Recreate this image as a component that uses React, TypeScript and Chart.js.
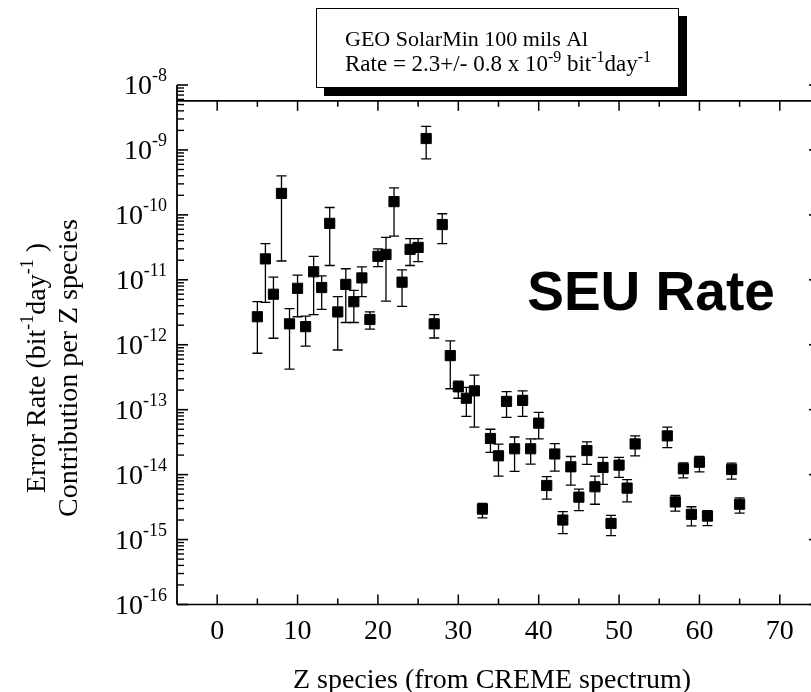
import React, { useEffect, useRef } from "react";
import { Chart, registerables } from "chart.js";

Chart.register(...registerables);

// ---------- data ----------
const zSpecies = [
  5, 6, 7, 8, 9, 10, 11, 12, 13, 14, 15, 16, 17, 18, 19, 20, 21, 22, 23, 24, 25, 26, 27, 28,
  29, 30, 31, 32, 33, 34, 35, 36, 37, 38, 39, 40, 41, 42, 43, 44, 45, 46, 47, 48, 49, 50, 51,
  52, 56, 57, 58, 59, 60, 61, 64, 65,
];
const rate = [
  2.7e-12, 2.1e-11, 6.0e-12, 2.14e-10, 2.1e-12, 7.4e-12, 1.9e-12, 1.33e-11, 7.6e-12, 7.4e-11,
  3.2e-12, 8.5e-12, 4.6e-12, 1.07e-11, 2.45e-12, 2.3e-11, 2.46e-11, 1.6e-10, 9.2e-12, 2.95e-11,
  3.16e-11, 1.5e-9, 2.1e-12, 7.1e-11, 6.8e-13, 2.25e-13, 1.5e-13, 1.95e-13, 2.95e-15, 3.6e-14,
  1.95e-14, 1.34e-13, 2.5e-14, 1.39e-13, 2.5e-14, 6.2e-14, 6.8e-15, 2.08e-14, 2.0e-15, 1.32e-14,
  4.5e-15, 2.35e-14, 6.5e-15, 1.29e-14, 1.77e-15, 1.4e-14, 6.2e-15, 2.97e-14, 3.95e-14, 3.8e-15,
  1.23e-14, 2.45e-15, 1.55e-14, 2.3e-15, 1.2e-14, 3.5e-15,
];
const rateUpper = [
  4.6e-12, 3.6e-11, 1.1e-11, 4.0e-10, 3.6e-12, 1.18e-11, 2.75e-12, 2.3e-11, 1.15e-11, 1.3e-10,
  5.5e-12, 1.48e-11, 6.9e-12, 1.58e-11, 3.2e-12, 3.0e-11, 4.5e-11, 2.6e-10, 1.42e-11, 4.3e-11,
  4.3e-11, 2.3e-9, 2.9e-12, 1.04e-10, 1.15e-12, 2.75e-13, 2.2e-13, 3.4e-13, 3.6e-15, 5.0e-14,
  2.95e-14, 1.9e-13, 3.8e-14, 1.95e-13, 3.55e-14, 9.1e-14, 9.3e-15, 3.0e-14, 2.7e-15, 1.9e-14,
  6.0e-15, 3.2e-14, 9.5e-15, 1.85e-14, 2.35e-15, 1.85e-14, 8.4e-15, 3.95e-14, 5.4e-14, 4.8e-15,
  1.52e-14, 3.2e-15, 1.9e-14, 2.8e-15, 1.5e-14, 4.4e-15,
];
const rateLower = [
  7.4e-13, 4.5e-12, 1.26e-12, 1.95e-11, 4.2e-13, 2.7e-12, 9.5e-13, 2.9e-12, 3.5e-12, 1.66e-11,
  8.3e-13, 2.2e-12, 2.2e-12, 5.5e-12, 1.74e-12, 1.6e-11, 4.7e-12, 4.7e-11, 3.9e-12, 1.66e-11,
  1.9e-11, 7.3e-10, 1.27e-12, 3.6e-11, 2.1e-13, 1.5e-13, 7.9e-14, 5.4e-14, 2.15e-15, 2.2e-14,
  9.5e-15, 7.6e-14, 1.12e-14, 7.9e-14, 1.45e-14, 3.55e-14, 4.2e-15, 1.13e-14, 1.23e-15, 6.9e-15,
  2.8e-15, 1.44e-14, 3.5e-15, 7.1e-15, 1.15e-15, 9.1e-15, 3.8e-15, 1.94e-14, 2.6e-14, 2.75e-15,
  8.9e-15, 1.62e-15, 1.1e-14, 1.64e-15, 8.5e-15, 2.55e-15,
];

const xMin = -5;
const xMax = 75;
const xTickStep = 5;
const xTickLabels = [0, 10, 20, 30, 40, 50, 60, 70];
const yExponents = [-8, -9, -10, -11, -12, -13, -14, -15, -16];
const topFrameRate = 5.7e-9;

const boxLine1 = "GEO SolarMin 100 mils Al";
const xTitle = "Z species (from CREME spectrum)";
const yTitle2 = "Contribution per Z species";
const bigLabel = "SEU Rate";

const SERIF = '"Liberation Serif", "Times New Roman", Times, serif';
const SANS = '"Liberation Sans", Arial, Helvetica, sans-serif';

type Seg = { t: string; sup?: boolean };

function richWidth(ctx: CanvasRenderingContext2D, segs: Seg[], base: number, sup: number) {
  let w = 0;
  for (const s of segs) {
    ctx.font = `${s.sup ? sup : base}px ${SERIF}`;
    w += ctx.measureText(s.t).width;
  }
  return w;
}

function drawRich(
  ctx: CanvasRenderingContext2D,
  segs: Seg[],
  x: number,
  y: number,
  base: number,
  sup: number,
  raise: number,
  align: "left" | "center" | "right"
) {
  const w = richWidth(ctx, segs, base, sup);
  let cx = align === "left" ? x : align === "center" ? x - w / 2 : x - w;
  ctx.textAlign = "left";
  ctx.textBaseline = "alphabetic";
  for (const s of segs) {
    ctx.font = `${s.sup ? sup : base}px ${SERIF}`;
    ctx.fillText(s.t, cx, s.sup ? y - raise : y);
    cx += ctx.measureText(s.t).width;
  }
}

const decorPlugin = {
  id: "decor",
  beforeDraw(chart: any) {
    const ctx = chart.ctx;
    ctx.save();
    ctx.fillStyle = "#fff";
    ctx.fillRect(0, 0, chart.width, chart.height);
    ctx.restore();
  },
  beforeDatasetsDraw(chart: any) {
    const { ctx } = chart;
    const xs = chart.scales.x;
    const ys = chart.scales.y;
    ctx.save();
    ctx.strokeStyle = "#000";
    ctx.lineWidth = 1.3;
    zSpecies.forEach((z, i) => {
      const px = xs.getPixelForValue(z);
      const yu = ys.getPixelForValue(rateUpper[i]);
      const yl = ys.getPixelForValue(rateLower[i]);
      ctx.beginPath();
      ctx.moveTo(px, yu);
      ctx.lineTo(px, yl);
      ctx.moveTo(px - 5, yu);
      ctx.lineTo(px + 5, yu);
      ctx.moveTo(px - 5, yl);
      ctx.lineTo(px + 5, yl);
      ctx.stroke();
    });
    ctx.restore();
  },
  afterDraw(chart: any) {
    const { ctx, chartArea } = chart;
    const { left, right, top, bottom } = chartArea;
    const xs = chart.scales.x;
    const ys = chart.scales.y;
    const topY = ys.getPixelForValue(topFrameRate);
    ctx.save();
    ctx.strokeStyle = "#000";
    ctx.fillStyle = "#000";
    const line = (x1: number, y1: number, x2: number, y2: number, w = 1.6) => {
      ctx.lineWidth = w;
      ctx.beginPath();
      ctx.moveTo(x1, y1);
      ctx.lineTo(x2, y2);
      ctx.stroke();
    };
    // frame
    line(left, top, left, bottom, 1.8);
    line(right, top, right, bottom, 1.8);
    line(left, bottom, right, bottom, 1.6);
    line(left, topY, right, topY, 1.6);

    // y ticks (log)
    for (const e of yExponents) {
      const py = ys.getPixelForValue(Math.pow(10, e));
      line(left, py, left + 11, py, 1.6);
      line(right, py, right - 11, py, 1.6);
    }
    for (const e of yExponents) {
      if (e === yExponents[0]) continue;
      for (let k = 2; k <= 9; k++) {
        const py = ys.getPixelForValue(k * Math.pow(10, e));
        line(left, py, left + 7, py, 1.4);
        line(right, py, right - 7, py, 1.4);
      }
    }
    // x ticks
    for (let v = xMin + xTickStep; v < xMax; v += xTickStep) {
      const px = xs.getPixelForValue(v);
      const len = v % 10 === 0 ? 10 : 6;
      line(px, bottom, px, bottom - len, 1.5);
      line(px, topY, px, topY + len, 1.5);
    }

    // x tick labels
    ctx.font = `28px ${SERIF}`;
    ctx.textAlign = "center";
    ctx.textBaseline = "alphabetic";
    for (const v of xTickLabels) {
      ctx.fillText(String(v), xs.getPixelForValue(v), 639);
    }

    // y tick labels
    for (const e of yExponents) {
      const py = ys.getPixelForValue(Math.pow(10, e));
      drawRich(ctx, [{ t: "10" }, { t: String(e), sup: true }], 167, py + 9, 28, 18, 13, "right");
    }

    // x title
    ctx.font = `28px ${SERIF}`;
    ctx.textAlign = "center";
    ctx.fillText(xTitle, 492, 688);

    // y title (rotated)
    const yTitleCenter = 368;
    ctx.save();
    ctx.translate(45, yTitleCenter);
    ctx.rotate(-Math.PI / 2);
    drawRich(
      ctx,
      [{ t: "Error Rate (bit" }, { t: "-1", sup: true }, { t: "day" }, { t: "-1", sup: true }, { t: " )" }],
      0,
      0,
      28,
      18,
      12,
      "center"
    );
    ctx.restore();
    ctx.save();
    ctx.translate(77, yTitleCenter);
    ctx.rotate(-Math.PI / 2);
    ctx.font = `28px ${SERIF}`;
    ctx.textAlign = "center";
    ctx.textBaseline = "alphabetic";
    ctx.fillText(yTitle2, 0, 0);
    ctx.restore();

    // SEU Rate
    ctx.font = `bold 55px ${SANS}`;
    ctx.textAlign = "center";
    ctx.textBaseline = "alphabetic";
    ctx.fillText(bigLabel, 651, 310);

    // annotation box with shadow
    ctx.fillStyle = "#000";
    ctx.fillRect(324, 16, 363, 80);
    ctx.fillStyle = "#fff";
    ctx.fillRect(316, 8, 363, 80);
    ctx.strokeStyle = "#000";
    ctx.lineWidth = 1;
    ctx.strokeRect(316.5, 8.5, 362, 79);
    ctx.fillStyle = "#000";
    ctx.font = `22px ${SERIF}`;
    ctx.textAlign = "left";
    ctx.fillText(boxLine1, 345, 46);
    drawRich(
      ctx,
      [
        { t: "Rate = 2.3+/- 0.8 x 10" },
        { t: "-9", sup: true },
        { t: " bit" },
        { t: "-1", sup: true },
        { t: "day" },
        { t: "-1", sup: true },
      ],
      345,
      71,
      23,
      16,
      9,
      "left"
    );
    ctx.restore();
  },
};

export default function App() {
  const ref = useRef<HTMLCanvasElement>(null);
  useEffect(() => {
    document.body.style.margin = "0";
    const chart = new Chart(ref.current as HTMLCanvasElement, {
      type: "scatter",
      data: {
        datasets: [
          {
            data: zSpecies.map((z, i) => ({ x: z, y: rate[i] })),
            pointStyle: "rect",
            pointRadius: 7.2,
            pointHoverRadius: 7.2,
            backgroundColor: "#000",
            borderColor: "#000",
            borderWidth: 1,
            showLine: false,
          },
        ],
      },
      options: {
        responsive: false,
        animation: false,
        devicePixelRatio: 1,
        layout: { padding: { left: 177, right: 10, top: 85, bottom: 87.5 } },
        scales: {
          x: { type: "linear", min: xMin, max: xMax, display: false },
          y: { type: "logarithmic", min: 1e-16, max: 1e-8, display: false },
        },
        plugins: { legend: { display: false }, tooltip: { enabled: false } },
        events: [],
      },
      plugins: [decorPlugin],
    });
    return () => chart.destroy();
  }, []);
  return (
    <div
      style={{
        position: "fixed",
        left: 0,
        top: 0,
        width: 811,
        height: 692,
        overflow: "hidden",
        background: "#fff",
      }}
    >
      <canvas ref={ref} width={830} height={692} style={{ width: 830, height: 692, display: "block" }} />
    </div>
  );
}
